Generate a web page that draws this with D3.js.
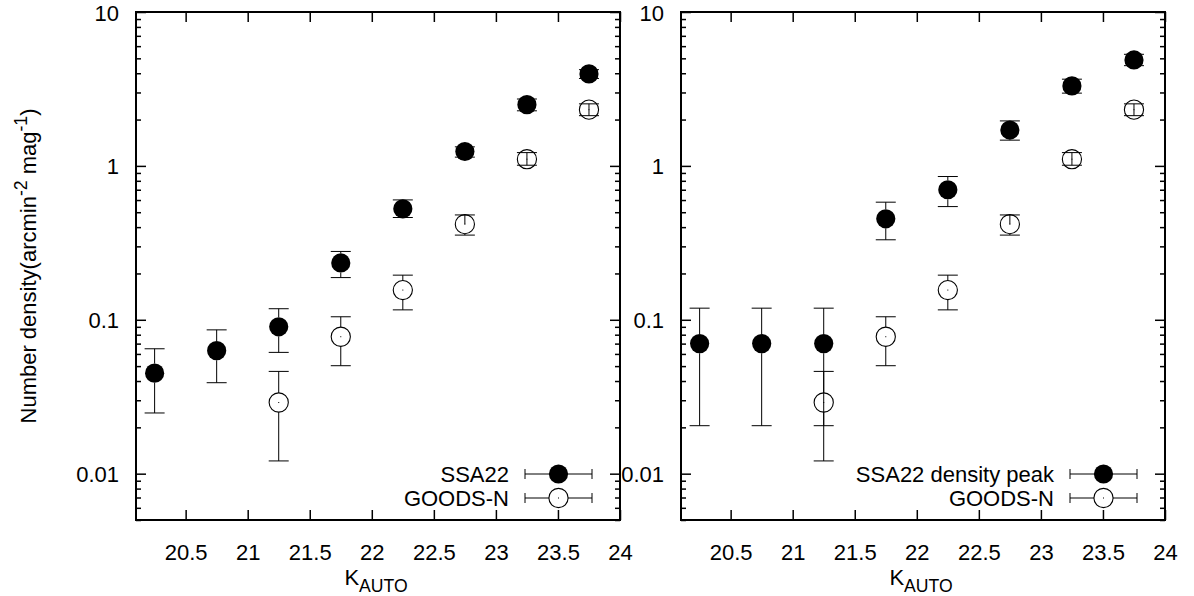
<!DOCTYPE html>
<html>
<head>
<meta charset="utf-8">
<script src="https://cdn.jsdelivr.net/npm/d3@7"></script>
<style>
  html, body { margin: 0; padding: 0; background: #fff; }
  svg { display: block; }
  text { font-family: "Liberation Sans", Arial, sans-serif; fill: #000; }
</style>
</head>
<body>
<svg id="chart" width="1194" height="596"></svg>
<script>
// K_AUTO magnitude bins (bin centres)
const kBins = [20.25, 20.75, 21.25, 21.75, 22.25, 22.75, 23.25, 23.75];

// SSA22 whole field: number density and error-bar limits
const ssa22    = [0.045, 0.063, 0.090, 0.234, 0.526, 1.24, 2.50, 3.96];
const ssa22Lo  = [0.0248, 0.039, 0.0614, 0.188, 0.462, 1.14, 2.28, 3.70];
const ssa22Hi  = [0.0648, 0.086, 0.118, 0.278, 0.601, 1.33, 2.72, 4.22];

// SSA22 density peak
const peak     = [0.070, 0.070, 0.070, 0.453, 0.70, 1.71, 3.31, 4.88];
const peakLo   = [0.0205, 0.0205, 0.0205, 0.331, 0.544, 1.47, 2.97, 4.48];
const peakHi   = [0.119, 0.119, 0.119, 0.581, 0.853, 1.96, 3.66, 5.31];

// GOODS-N comparison field
const goodsBins = [21.25, 21.75, 22.25, 22.75, 23.25, 23.75];
const goods     = [0.029, 0.0776, 0.156, 0.418, 1.105, 2.32];
const goodsLo   = [0.0121, 0.0503, 0.116, 0.355, 1.01, 2.12];
const goodsHi   = [0.0462, 0.1046, 0.195, 0.48, 1.22, 2.53];

// Axis ticks and labels
const xTicks = [20.5, 21, 21.5, 22, 22.5, 23, 23.5, 24];
const xTickLabels = ["20.5", "21", "21.5", "22", "22.5", "23", "23.5", "24"];
const yTicks = [0.01, 0.1, 1, 10];
const yTickLabels = ["0.01", "0.1", "1", "10"];

const legendLeft  = ["SSA22", "GOODS-N"];
const legendRight = ["SSA22 density peak", "GOODS-N"];

const svg = d3.select("#chart");
const FONT = 22;
const plotTop = 12, plotBottom = 520, panelW = 484;
const R = 9.6, CAP = 10;

function pack(xs, v, lo, hi) {
  return xs.map((x, i) => ({ x, v: v[i], lo: lo[i], hi: hi[i] }));
}

function drawPanel(ox, filledData, openData, labels, withYLabel) {
  const h = plotBottom - plotTop;
  const x = d3.scaleLinear().domain([20.1, 24]).range([0, panelW]);
  const y = d3.scaleLog().domain([0.005, 10]).range([h, 0]);
  const g = svg.append("g").attr("transform", `translate(${ox},${plotTop})`);

  const minor = y.ticks().filter(t => !yTicks.some(m => Math.abs(m - t) < 1e-12));

  const yMajor = d3.axisLeft(y).tickValues(yTicks)
    .tickFormat((d, i) => yTickLabels[i]).tickSizeInner(-10).tickSizeOuter(0).tickPadding(17);
  const yMinor = d3.axisLeft(y).tickValues(minor).tickFormat("").tickSizeInner(-5).tickSizeOuter(0);
  const yMajorR = d3.axisRight(y).tickValues(yTicks).tickFormat("").tickSizeInner(-10).tickSizeOuter(0);
  const yMinorR = d3.axisRight(y).tickValues(minor).tickFormat("").tickSizeInner(-5).tickSizeOuter(0);
  const xBottom = d3.axisBottom(x).tickValues(xTicks)
    .tickFormat((d, i) => xTickLabels[i]).tickSizeInner(-10).tickSizeOuter(0).tickPadding(20);
  const xTop = d3.axisTop(x).tickValues(xTicks).tickFormat("").tickSizeInner(-10).tickSizeOuter(0);

  const axes = [
    [yMajor, `translate(0,0)`, "y"], [yMinor, `translate(0,0)`, ""],
    [yMajorR, `translate(${panelW},0)`, ""], [yMinorR, `translate(${panelW},0)`, ""],
    [xBottom, `translate(0,${h})`, "x"], [xTop, `translate(0,0)`, ""]
  ];
  axes.forEach(([ax, tr, kind]) => {
    const a = g.append("g").attr("transform", tr).call(ax);
    a.select(".domain").remove();
    a.selectAll(".tick line").attr("stroke", "#000").attr("stroke-width", 1.5);
    a.selectAll("text").style("font-size", FONT + "px")
      .style("font-family", '"Liberation Sans", Arial, sans-serif').attr("fill", "#000");
    if (kind === "x") a.selectAll("text").attr("dy", null).attr("y", 39.5);
    if (kind === "y") a.selectAll("text").attr("dy", null).attr("y", 8);
  });

  // frame
  g.append("rect").attr("x", 0).attr("y", 0).attr("width", panelW).attr("height", h)
    .attr("fill", "none").attr("stroke", "#000").attr("stroke-width", 2);

  // error bars + points
  function series(data, filled) {
    const s = g.append("g");
    data.forEach(d => {
      const cx = x(d.x), cy = y(d.v), yh = y(d.hi), yl = y(d.lo);
      const bar = s.append("g").attr("stroke", "#000").attr("stroke-width", 1);
      if (cy - yh > R) bar.append("line").attr("x1", cx).attr("x2", cx).attr("y1", yh).attr("y2", cy - R);
      else bar.append("line").attr("x1", cx).attr("x2", cx).attr("y1", yh).attr("y2", cy);
      if (yl - cy > R) bar.append("line").attr("x1", cx).attr("x2", cx).attr("y1", cy + R).attr("y2", yl);
      else bar.append("line").attr("x1", cx).attr("x2", cx).attr("y1", cy).attr("y2", yl);
      bar.append("line").attr("x1", cx - CAP).attr("x2", cx + CAP).attr("y1", yh).attr("y2", yh);
      bar.append("line").attr("x1", cx - CAP).attr("x2", cx + CAP).attr("y1", yl).attr("y2", yl);
      if (filled) {
        s.append("circle").attr("cx", cx).attr("cy", cy).attr("r", R).attr("fill", "#000");
      } else {
        s.append("circle").attr("cx", cx).attr("cy", cy).attr("r", R)
          .attr("fill", "none").attr("stroke", "#000").attr("stroke-width", 1.1);
        s.append("rect").attr("x", cx - 0.5).attr("y", cy - 0.5).attr("width", 1).attr("height", 1).attr("fill", "#000");
      }
    });
  }
  series(openData, false);
  series(filledData, true);

  // legend
  const lg = g.append("g");
  [[labels[0], true, 474], [labels[1], false, 498]].forEach(([lab, filled, ly]) => {
    const yy = ly - plotTop;
    lg.append("text").attr("x", 373).attr("y", yy + 8).attr("text-anchor", "end")
      .style("font-size", FONT + "px").text(lab);
    const l = lg.append("g").attr("stroke", "#000").attr("stroke-width", 1);
    l.append("line").attr("x1", 389).attr("x2", 456).attr("y1", yy).attr("y2", yy);
    l.append("line").attr("x1", 389).attr("x2", 389).attr("y1", yy - 5).attr("y2", yy + 5);
    l.append("line").attr("x1", 456).attr("x2", 456).attr("y1", yy - 5).attr("y2", yy + 5);
    if (filled) {
      lg.append("circle").attr("cx", 422.5).attr("cy", yy).attr("r", R).attr("fill", "#000");
    } else {
      lg.append("circle").attr("cx", 422.5).attr("cy", yy).attr("r", R).attr("fill", "#fff")
        .attr("stroke", "#000").attr("stroke-width", 1.1);
      lg.append("rect").attr("x", 422).attr("y", yy - 0.5).attr("width", 1).attr("height", 1).attr("fill", "#000");
    }
  });

  // x-axis title: K_AUTO
  const xt = g.append("text").attr("x", panelW / 2 - 2).attr("y", 585 - plotTop)
    .attr("text-anchor", "middle").style("font-size", FONT + "px");
  xt.append("tspan").text("K");
  xt.append("tspan").attr("dy", 7).style("font-size", "17.6px").text("AUTO");

  if (withYLabel) {
    const yt = svg.append("text")
      .attr("transform", `translate(36,${(plotTop + plotBottom) / 2}) rotate(-90)`)
      .attr("text-anchor", "middle").style("font-size", FONT + "px");
    yt.append("tspan").text("Number density(arcmin");
    yt.append("tspan").attr("dy", -9).style("font-size", "17.6px").text("-2");
    yt.append("tspan").attr("dy", 9).text(" mag");
    yt.append("tspan").attr("dy", -9).style("font-size", "17.6px").text("-1");
    yt.append("tspan").attr("dy", 9).text(")");
  }
}

drawPanel(136, pack(kBins, ssa22, ssa22Lo, ssa22Hi), pack(goodsBins, goods, goodsLo, goodsHi), legendLeft, true);
drawPanel(681, pack(kBins, peak, peakLo, peakHi), pack(goodsBins, goods, goodsLo, goodsHi), legendRight, false);
</script>
</body>
</html>
